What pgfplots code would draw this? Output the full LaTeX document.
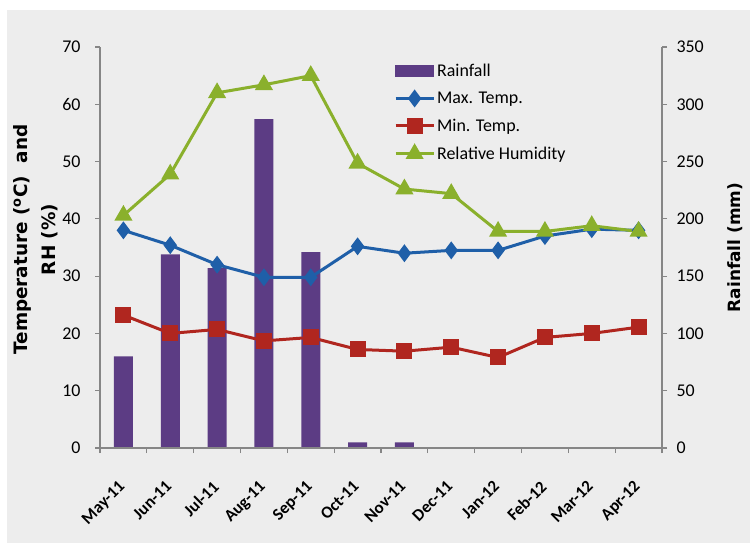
\documentclass[border=0pt]{standalone}
\usepackage{fontspec}
\setmainfont{Carlito}
\newfontfamily\dejavu{DejaVu Sans}
\usepackage{pgfplots}
\usepackage{pgfplotstable}
\pgfplotsset{compat=1.18}
\definecolor{bg}{RGB}{237,237,237}
\definecolor{axgray}{RGB}{134,134,134}
\definecolor{rainc}{RGB}{92,60,132}
\definecolor{maxc}{RGB}{31,95,168}
\definecolor{minc}{RGB}{176,38,31}
\definecolor{rhc}{RGB}{138,176,44}

\pgfplotstableread{
x rain maxt mint rh
0 80 38.0 23.2 40.6
1 169 35.4 20.0 47.8
2 157 32.0 20.7 62.0
3 287 29.8 18.7 63.4
4 171 29.8 19.3 65.0
5 5 35.2 17.2 49.7
6 5 34.0 16.9 45.2
7 0 34.5 17.6 44.4
8 0 34.5 15.8 37.8
9 0 37.0 19.3 37.8
10 0 38.2 20.0 38.8
11 0 38.0 21.1 37.8
}\datatable

\pgfplotsset{
  common/.style={
    scale only axis, width=562bp, height=401bp,
    at={(100bp,95bp)}, anchor=south west,
    xmin=-0.5, xmax=11.5,
    axis line style={axgray, line width=1.2bp},
    tick style={axgray, line width=1.2bp},
    major tick length=5bp, tick align=outside,
    /pgf/number format/assume math mode=true,
    every tick label/.append style={font=\fontsize{18}{21}\selectfont, text=black},
  }
}

\begin{document}
\begin{tikzpicture}
\fill[white] (0,0) rectangle (750bp,543bp);
\fill[bg] (7bp,0) rectangle (750bp,533bp);
\path[use as bounding box] (0,0) rectangle (750bp,543bp);

% rainfall axis (right)
\begin{axis}[common,
  axis x line=none, axis y line*=right,
  ymin=0, ymax=350, ytick={0,50,...,350},
  yticklabel style={anchor=west, xshift=6bp},
  ylabel={Rainfall (mm)},
  every axis y label/.style={at={(axis description cs:1.13,0.5)}, rotate=90, anchor=center,
     font=\dejavu\bfseries\fontsize{17}{20}\selectfont},
]
\addplot[ybar, bar width=19bp, fill=rainc, draw=none] table[x=x, y=rain] {\datatable};
\end{axis}

% temperature axis (left)
\begin{axis}[common,
  axis x line*=bottom, axis y line*=left,
  ymin=0, ymax=70, ytick={0,10,...,70},
  yticklabel style={anchor=east, xshift=-11bp},
  xtick={-0.5,0.5,...,11.5}, xticklabels={},
  extra x ticks={0,1,...,11},
  extra x tick labels={May-11,Jun-11,Jul-11,Aug-11,Sep-11,Oct-11,Nov-11,Dec-11,Jan-12,Feb-12,Mar-12,Apr-12},
  extra x tick style={major tick length=0pt, tick label style={rotate=45, anchor=north east,
     font=\bfseries\fontsize{17}{20}\selectfont, xshift=-23bp, yshift=-15bp}},
  ylabel={Temperature (\textsuperscript{o}C)~~and\\RH (\%)},
  every axis y label/.style={at={(axis description cs:-0.115,0.52)}, rotate=90, anchor=center,
     align=center, font=\dejavu\bfseries\fontsize{18.5}{28}\selectfont},
  legend image code/.code={\draw[mark repeat=2,mark phase=2,#1] plot coordinates {(0bp,0bp) (19bp,0bp) (38bp,0bp)};},
  legend style={draw=none, fill=none, at={(0.523,0.963)}, anchor=north west,
     font=\fontsize{18}{21}\selectfont, row sep=10bp, inner sep=0pt},
  legend cell align=left,
]
\addlegendimage{legend image code/.code={\fill[rainc] (0bp,-5.5bp) rectangle (38bp,5.5bp);}}
\addlegendentry{Rainfall}
\addplot[maxc, line width=3bp, mark=diamond*, mark size=6.5bp, mark options={solid}] table[x=x, y=maxt] {\datatable};
\addlegendentry{Max. Temp.}
\addplot[minc, line width=3bp, mark=square*, mark size=6.5bp] table[x=x, y=mint] {\datatable};
\addlegendentry{Min. Temp.}
\addplot[rhc, line width=3bp, mark=triangle*, mark size=7.5bp] table[x=x, y=rh] {\datatable};
\addlegendentry{Relative Humidity}
\end{axis}
\end{tikzpicture}
\end{document}
